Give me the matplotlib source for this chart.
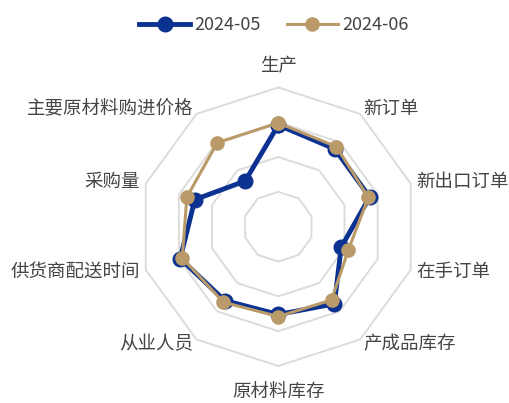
import numpy as np
import matplotlib.pyplot as plt
from matplotlib.lines import Line2D

plt.rcParams['font.family'] = ['Noto Sans CJK SC', 'DejaVu Sans']

categories = ['生产', '新订单', '新出口订单', '在手订单', '产成品库存',
              '原材料库存', '从业人员', '供货商配送时间', '采购量', '主要原材料购进价格']
may = [49.6, 48.8, 48.8, 44.5, 48.7, 47.6, 48.1, 49.8, 47.6, 43.1]
jun = [49.9, 49.2, 48.6, 45.6, 48.0, 47.9, 48.4, 49.5, 48.8, 49.9]
series_names = ['2024-05', '2024-06']
rings = [40, 45, 50, 55]
rmin, rmax = 35, 55

blue = '#0b3290'
gold = '#b99a68'
grid_c = '#dcdcdc'
text_c = '#454545'

fig = plt.figure(figsize=(5.1, 4.03), dpi=100)
ax = fig.add_axes([0.2725, 0.0918, 0.5463, 0.6913], projection='polar')
ax.set_theta_zero_location('N')
ax.set_theta_direction(-1)
ax.set_ylim(rmin, rmax)
ax.grid(False)
ax.set_xticks([])
ax.set_yticks([])
ax.spines['polar'].set_visible(False)
ax.patch.set_alpha(0)

n = len(categories)
angles = np.arange(n) * 2 * np.pi / n
closed = np.append(angles, angles[0])

for lv in rings:
    ax.plot(closed, [lv] * (n + 1), color=grid_c, lw=1.4, zorder=1, clip_on=False)

ax.plot(closed, may + may[:1], color=blue, lw=3.5, marker='o', ms=10.5,
        zorder=3, clip_on=False)
ax.plot(closed, jun + jun[:1], color=gold, lw=2.2, marker='o', ms=9.5,
        zorder=4, clip_on=False)

lab_r = rmin + (rmax - rmin) * 1.041
for a, name in zip(angles, categories):
    s = np.sin(a)
    r = lab_r
    if abs(s) < 1e-6:
        ha = 'center'
        if np.cos(a) > 0:
            va = 'bottom'
            r = lab_r + 1.0
        else:
            va = 'top'
            r = lab_r + 1.7
    else:
        ha = 'left' if s > 0 else 'right'
        va = 'center'
    ax.text(a, r, name, ha=ha, va=va, fontsize=13.3, color=text_c,
            fontweight='light', clip_on=False)

handles = [Line2D([], [], color=blue, lw=3.5, marker='o', ms=10.5),
           Line2D([], [], color=gold, lw=2.2, marker='o', ms=9.5)]
fig.legend(handles, series_names, loc='upper center', bbox_to_anchor=(0.537, 1.0),
           ncol=2, frameon=False, fontsize=13, handlelength=2.8,
           handletextpad=0.25, columnspacing=1.45, labelcolor=text_c,
           prop={'weight': 'light', 'size': 13})

fig.savefig('out.png', dpi=100)
